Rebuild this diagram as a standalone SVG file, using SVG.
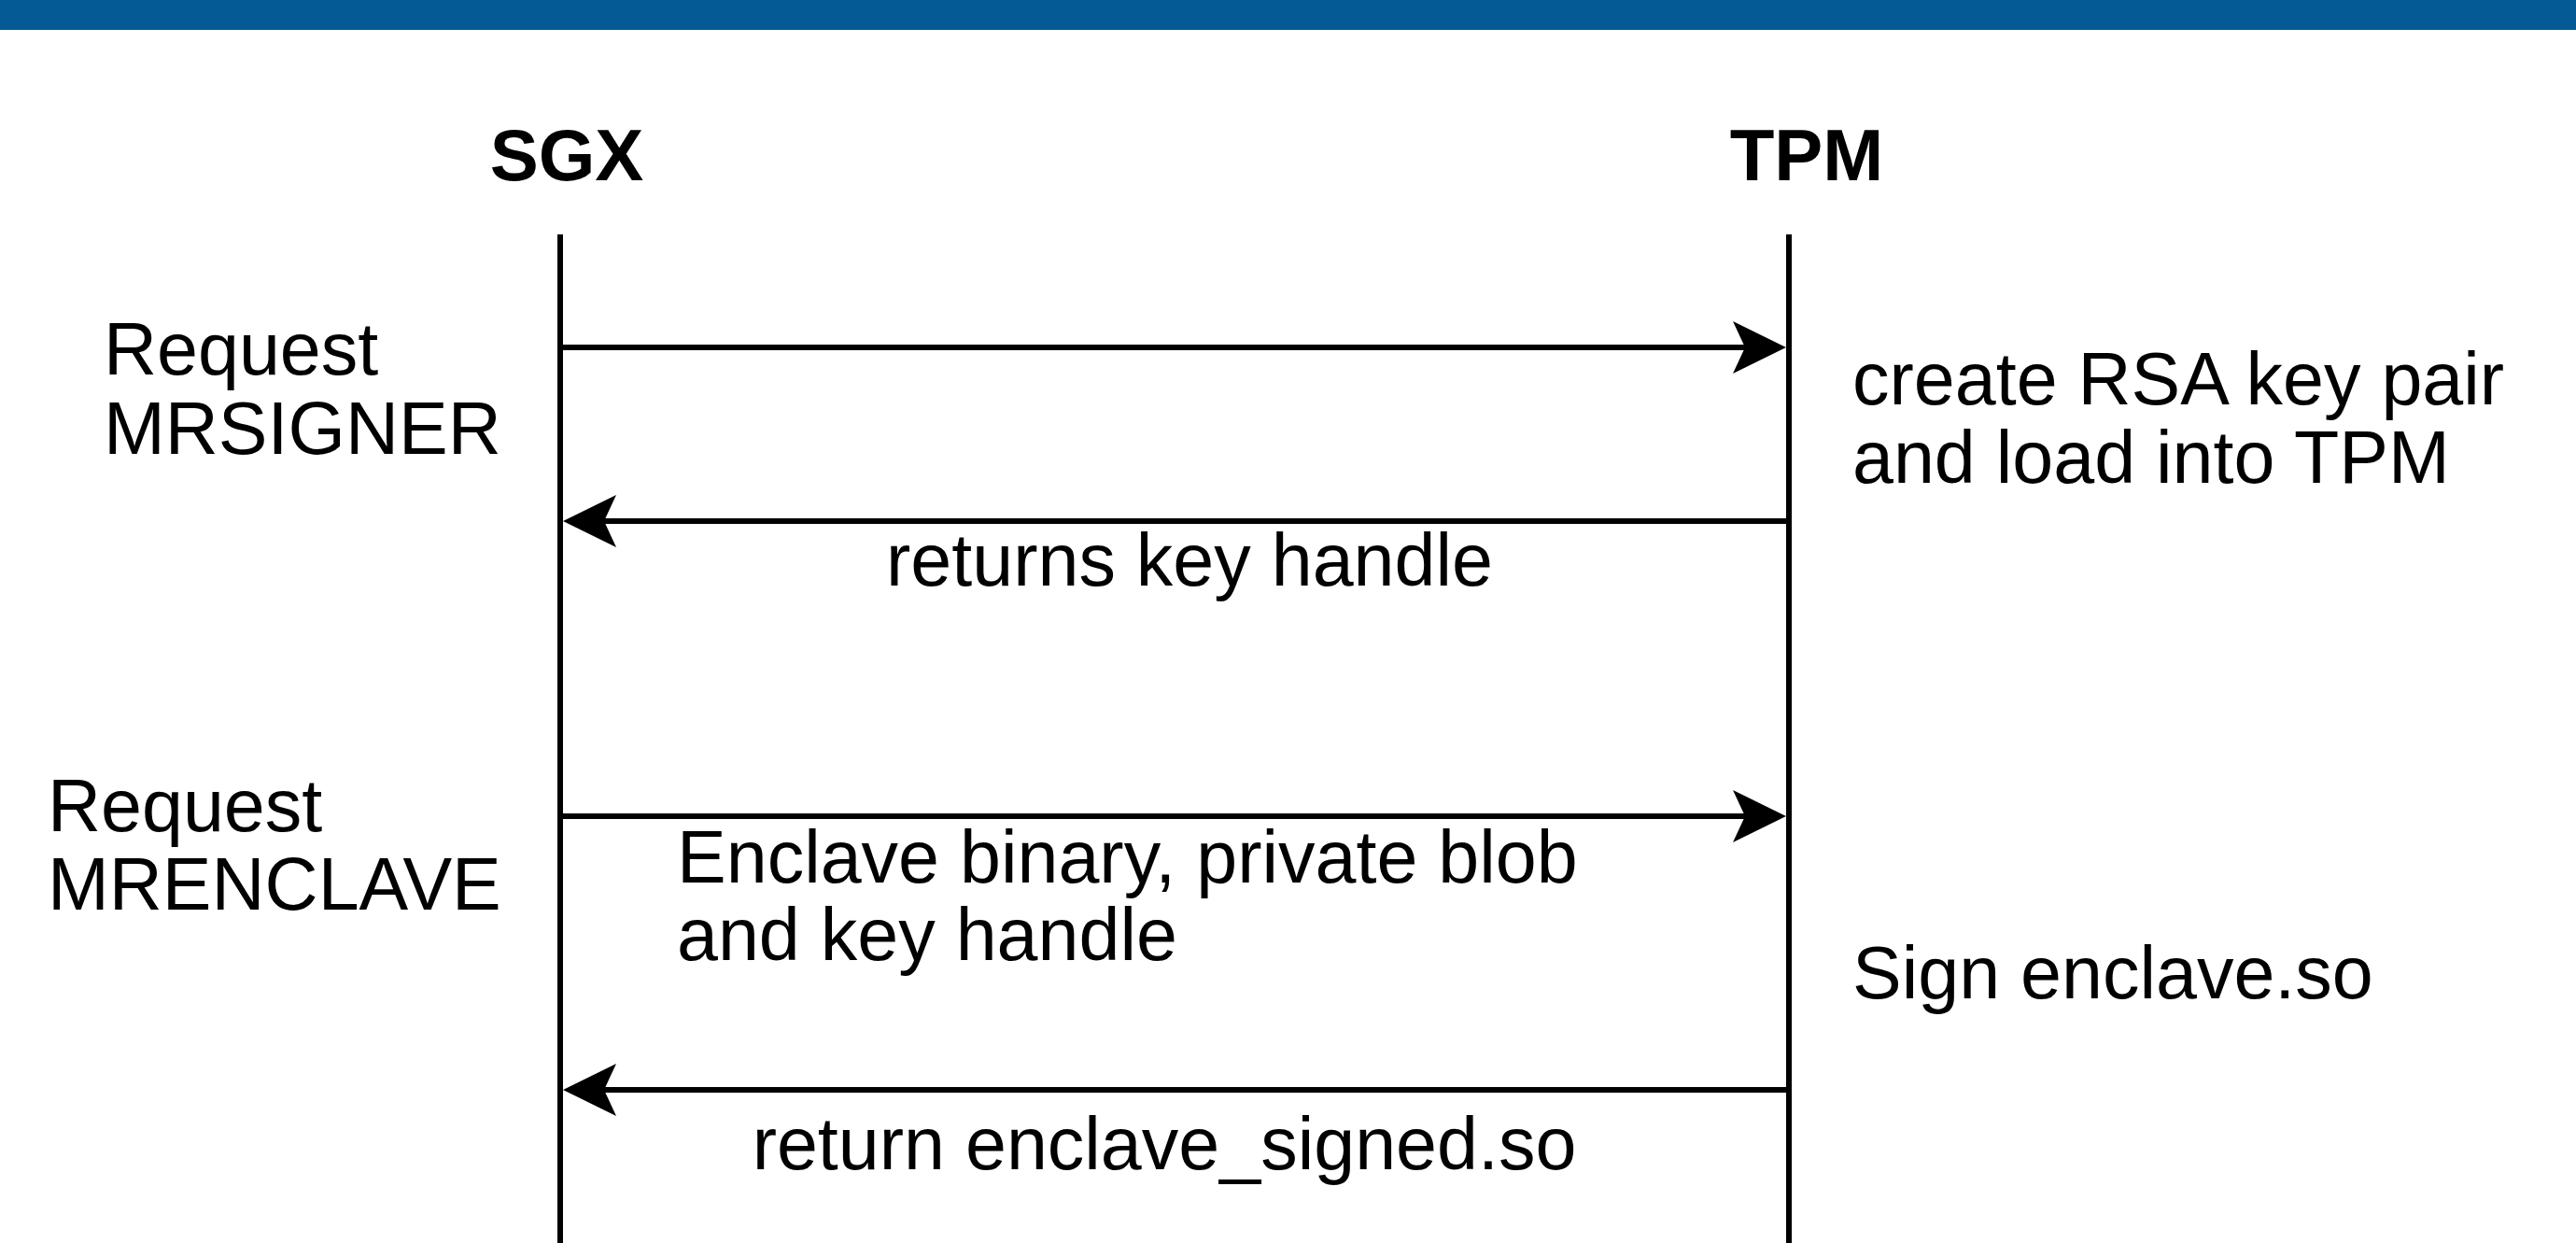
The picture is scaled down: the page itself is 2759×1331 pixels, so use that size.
<svg xmlns="http://www.w3.org/2000/svg" width="2759" height="1331" viewBox="0 0 2759 1331">
<style>
.t{font-family:"Liberation Sans",Arial,Helvetica,sans-serif;font-size:79px;fill:#000}
.h{font-family:"Liberation Sans",Arial,Helvetica,sans-serif;font-size:78px;font-weight:bold;fill:#000}
.ll{stroke:#000;stroke-width:6;fill:none}
.msg{stroke:#000;stroke-width:6;fill:none;marker-end:url(#arr)}
</style>
<defs>
<marker id="arr" markerUnits="userSpaceOnUse" viewBox="0 0 57 56" refX="13" refY="28" markerWidth="57" markerHeight="56" orient="auto">
<path d="M0,0 L57,28 L0,56 L13,28 Z" fill="#000"/>
</marker>
</defs>
<rect x="0" y="0" width="2759" height="1331" fill="#fff"/>
<rect id="topbar" x="0" y="0" width="2759" height="32" fill="#035a95"/>
<g id="sgx">
<text class="h" x="607" y="193" text-anchor="middle">SGX</text>
<line class="ll" x1="600" y1="251" x2="600" y2="1331"/>
</g>
<g id="tpm">
<text class="h" x="1935" y="193" text-anchor="middle">TPM</text>
<line class="ll" x1="1916" y1="251" x2="1916" y2="1331"/>
</g>
<g id="req-mrsigner">
<text class="t" x="111" y="401">Request</text>
<text class="t" x="111" y="486">MRSIGNER</text>
</g>
<g id="req-mrenclave">
<text class="t" x="51" y="890">Request</text>
<text class="t" x="51" y="974">MRENCLAVE</text>
</g>
<g id="create-rsa">
<text class="t" x="1984" y="433">create RSA key pair</text>
<text class="t" x="1984" y="517">and load into TPM</text>
</g>
<g id="sign-enclave">
<text class="t" x="1984" y="1069">Sign enclave.so</text>
</g>
<g id="connectors">
<line class="msg" x1="603" y1="372" x2="1869" y2="372"/>
<line class="msg" x1="1913" y1="558" x2="647" y2="558"/>
<line class="msg" x1="603" y1="874" x2="1869" y2="874"/>
<line class="msg" x1="1913" y1="1167" x2="647" y2="1167"/>
<text class="t" x="1274" y="627" text-anchor="middle">returns key handle</text>
<text class="t" x="725" y="945">Enclave binary, private blob</text>
<text class="t" x="725" y="1028">and key handle</text>
<text class="t" x="1247" y="1252" text-anchor="middle">return enclave_signed.so</text>
</g>
</svg>
